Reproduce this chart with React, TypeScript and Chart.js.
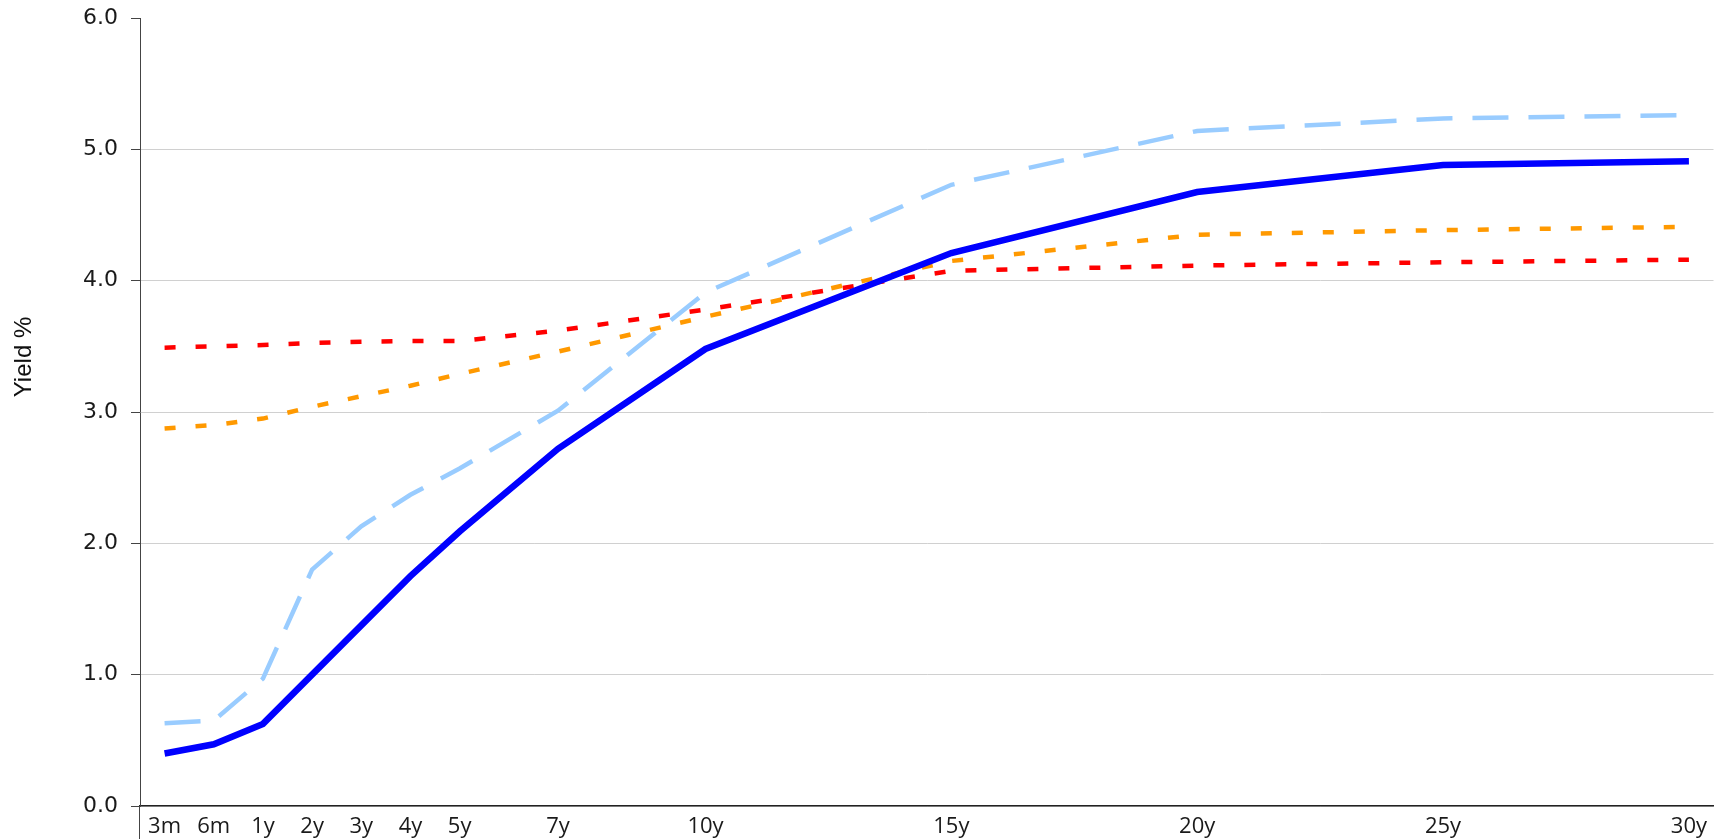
import React, { useEffect, useRef } from "react";
import { Chart, registerables } from "chart.js";

Chart.register(...registerables);

// All categories on the maturity axis (one slot per year, plus 3m and 6m)
const categories: string[] = [
  "3m", "6m", "1y", "2y", "3y", "4y", "5y", "6y", "7y", "8y", "9y", "10y",
  "11y", "12y", "13y", "14y", "15y", "16y", "17y", "18y", "19y", "20y",
  "21y", "22y", "23y", "24y", "25y", "26y", "27y", "28y", "29y", "30y",
];

// Tenors with data (and labelled ticks)
const tenors: string[] = ["3m", "6m", "1y", "2y", "3y", "4y", "5y", "7y", "10y", "15y", "20y", "25y", "30y"];

const seriesDarkBlue: number[] = [0.40, 0.47, 0.625, 1.0, 1.375, 1.75, 2.09, 2.72, 3.48, 4.21, 4.675, 4.88, 4.91];
const seriesLightBlue: number[] = [0.63, 0.65, 0.97, 1.80, 2.13, 2.37, 2.57, 3.01, 3.91, 4.73, 5.14, 5.235, 5.26];
const seriesOrange: number[] = [2.875, 2.90, 2.95, 3.04, 3.12, 3.20, 3.29, 3.46, 3.725, 4.15, 4.35, 4.385, 4.41];
const seriesRed: number[] = [3.49, 3.50, 3.51, 3.525, 3.535, 3.54, 3.54, 3.62, 3.78, 4.075, 4.115, 4.14, 4.16];

const yTicks: number[] = [0, 1, 2, 3, 4, 5, 6];
const yTitle = "Yield %";

const toPoints = (vals: number[]) => tenors.map((t, i) => ({ x: t, y: vals[i] }));

const extrasPlugin = {
  id: "extras",
  afterDraw(chart: any) {
    const { ctx, chartArea, height } = chart;
    ctx.save();
    // y-axis line extends below the x-axis
    ctx.strokeStyle = "#444444";
    ctx.lineWidth = 1;
    const x = Math.round(chartArea.left) - 0.5;
    ctx.beginPath();
    ctx.moveTo(x, chartArea.bottom);
    ctx.lineTo(x, height);
    ctx.stroke();
    // y-axis title
    ctx.translate(24, chartArea.top + (chartArea.bottom - chartArea.top) / 2 - 55);
    ctx.rotate(-Math.PI / 2);
    ctx.font = '24px "Liberation Sans", Arial, sans-serif';
    ctx.fillStyle = "#111111";
    ctx.textAlign = "center";
    ctx.textBaseline = "middle";
    ctx.fillText(yTitle, 0, 0);
    ctx.restore();
  },
};

export default function App() {
  const ref = useRef<HTMLCanvasElement | null>(null);

  useEffect(() => {
    if (!ref.current) return;
    const chart = new Chart(ref.current, {
      type: "line",
      data: {
        labels: categories,
        datasets: [
          {
            label: "Dark blue",
            data: toPoints(seriesDarkBlue),
            borderColor: "#0000FF",
            borderWidth: 6.5,
            pointRadius: 0,
            tension: 0,
            order: 0,
          },
          {
            label: "Light blue",
            data: toPoints(seriesLightBlue),
            borderColor: "#99CCFF",
            borderWidth: 4.5,
            borderDash: [36, 20],
            pointRadius: 0,
            tension: 0,
            order: 1,
          },
          {
            label: "Orange",
            data: toPoints(seriesOrange),
            borderColor: "#FF9900",
            borderWidth: 4.5,
            borderDash: [11, 20],
            pointRadius: 0,
            tension: 0,
            order: 2,
          },
          {
            label: "Red",
            data: toPoints(seriesRed),
            borderColor: "#FF0000",
            borderWidth: 4.5,
            borderDash: [11, 20],
            pointRadius: 0,
            tension: 0,
            order: 3,
          },
        ],
      },
      options: {
        responsive: false,
        animation: false,
        layout: { padding: { top: 18, left: 0, right: 0, bottom: 0 } },
        plugins: {
          legend: { display: false },
          tooltip: { enabled: false },
        },
        scales: {
          x: {
            type: "category",
            offset: true,
            grid: { display: false, drawTicks: false },
            border: { display: true, color: "#222222", width: 1.5 },
            ticks: {
              autoSkip: false,
              maxRotation: 0,
              minRotation: 0,
              padding: 8,
              color: "#1a1a1a",
              font: { family: '"Open Sans", "Noto Sans", sans-serif', size: 22 },
              callback: function (this: any, value: any) {
                const lbl = this.getLabelForValue(value);
                return tenors.includes(lbl) ? lbl : "";
              },
            },
            afterFit: (scale: any) => {
              scale.height = 33;
            },
          },
          y: {
            min: 0,
            max: 6,
            grid: {
              color: (c: any) => (c.tick && c.tick.value === 6 ? "rgba(0,0,0,0)" : "#d0d0d0"),
              tickColor: "#444444",
              tickLength: 9,
              lineWidth: 1,
            },
            border: { display: true, color: "#444444", width: 1 },
            ticks: {
              padding: 13,
              color: "#1a1a1a",
              font: { family: '"DejaVu Sans", Verdana, sans-serif', size: 22 },
              callback: (v: any) => Number(v).toFixed(1),
            },
            afterBuildTicks: (scale: any) => {
              scale.ticks = yTicks.map((v) => ({ value: v }));
            },
            afterFit: (scale: any) => {
              scale.width = 140;
              scale.paddingTop = 0;
              scale.paddingBottom = 0;
            },
          },
        },
      },
      plugins: [extrasPlugin],
    });
    return () => chart.destroy();
  }, []);

  return (
    <div style={{ position: "fixed", left: 0, top: 0, width: 1715, height: 839 }}>
      <canvas ref={ref} width={1715} height={839} style={{ display: "block" }} />
    </div>
  );
}
